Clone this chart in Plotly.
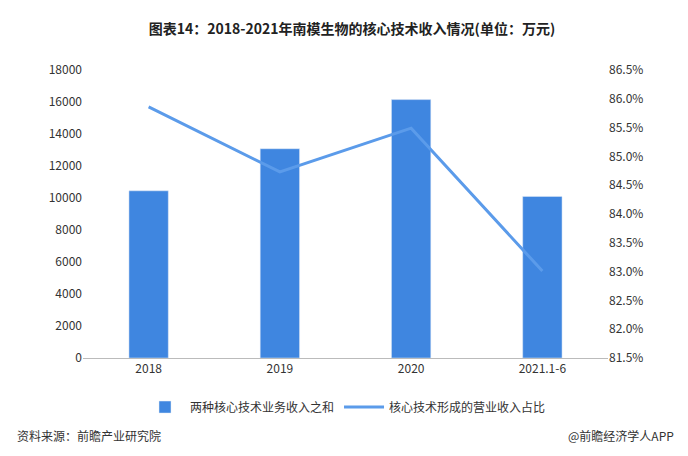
import plotly.graph_objects as go

years = ['2018', '2019', '2020', '2021.1-6']
revenue = [10450, 13080, 16150, 10100]
share_pct = [85.86, 84.73, 85.49, 83.01]

blue_bar = '#3f86e0'
blue_line = '#5b9bea'
font = 'Noto Sans CJK SC'

fig = go.Figure()
fig.add_trace(go.Bar(
    x=years, y=revenue, name='两种核心技术业务收入之和',
    marker_color=blue_bar, width=0.3,
))
fig.add_trace(go.Scatter(
    x=years, y=share_pct, name='核心技术形成的营业收入占比',
    mode='lines', line=dict(color=blue_line, width=3), yaxis='y2',
))
fig.update_layout(
    width=688, height=456,
    margin=dict(l=75, r=88, t=62, b=106, autoexpand=False),
    paper_bgcolor='white', plot_bgcolor='white',
    font=dict(family=font, size=12, color='#333'),
    title=dict(text='<b>图表14：2018-2021年南模生物的核心技术收入情况(单位：万元)</b>',
               x=0.5, y=0.965, xanchor='center', font=dict(size=14, color='#222')),
    bargap=0.7,
    xaxis=dict(showline=True, linecolor='#bbb', ticks='', tickfont=dict(size=12)),
    yaxis=dict(range=[0, 18000], dtick=2000, showgrid=False, ticks='',
               tickformat='d', tickfont=dict(size=12)),
    yaxis2=dict(range=[81.5, 86.5], dtick=0.5, overlaying='y', side='right',
                showgrid=False, ticksuffix='%', tickformat='.1f',
                tickfont=dict(size=12)),
    legend=dict(orientation='h', x=0.5, xanchor='center', y=-0.12, yanchor='top',
                font=dict(size=12), itemwidth=40),
    showlegend=True,
)
fig.add_annotation(text='资料来源：前瞻产业研究院', xref='paper', yref='paper',
                   x=-0.13, y=-0.27, xanchor='left', yanchor='middle', showarrow=False,
                   font=dict(size=12, color='#333'))
fig.add_annotation(text='@前瞻经济学人APP', xref='paper', yref='paper',
                   x=1.13, y=-0.27, xanchor='right', yanchor='middle', showarrow=False,
                   font=dict(size=12, color='#333'))
fig.write_html('out.html')
